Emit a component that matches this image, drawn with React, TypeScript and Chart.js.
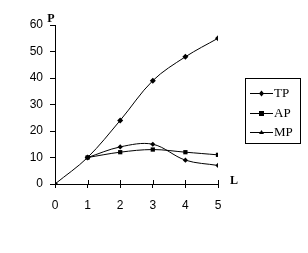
import React, { useEffect, useRef } from "react";
import { Chart, registerables } from "chart.js";

Chart.register(...registerables);

const labour = [0, 1, 2, 3, 4, 5];
const tp = [0, 10, 24, 39, 48, 55];
const ap = [null, 10, 12, 13, 12, 11];
const mp = [null, 10, 14, 15, 9, 7];
const seriesNames = ["TP", "AP", "MP"];
const yAxisTitle = "P";
const xAxisTitle = "L";

const pts = (vals: (number | null)[]) => labour.map((x, i) => ({ x, y: vals[i] }));

export default function App() {
  const ref = useRef<HTMLCanvasElement | null>(null);
  useEffect(() => {
    document.body.style.margin = "0";
    const canvas = ref.current!;
    const extras = {
      id: "extras",
      afterDraw(chart: any) {
        const ctx = chart.ctx;
        const xs = chart.scales.x;
        const ys = chart.scales.y;
        ctx.save();
        ctx.strokeStyle = "#000";
        ctx.lineWidth = 1;
        // upward parts of x ticks
        xs.ticks.forEach((t: any) => {
          const px = Math.round(xs.getPixelForValue(t.value)) + 0.5;
          ctx.beginPath();
          ctx.moveTo(px, ys.bottom);
          ctx.lineTo(px, ys.bottom - 4);
          ctx.stroke();
        });
        // axis titles
        ctx.fillStyle = "#000";
        ctx.font = "bold 12px 'Liberation Serif'";
        ctx.textAlign = "center";
        ctx.textBaseline = "middle";
        ctx.fillText(yAxisTitle, xs.left - 4, ys.top - 6);
        ctx.fillText(xAxisTitle, xs.right + 16, ys.bottom - 3);
        // legend
        const bx = 245.5, by = 78.5, bw = 55, bh = 65;
        ctx.strokeRect(bx, by, bw, bh);
        ctx.font = "13px 'Liberation Serif'";
        ctx.textAlign = "left";
        chart.data.datasets.forEach((ds: any, i: number) => {
          const y = 93 + i * 19.5;
          ctx.beginPath();
          ctx.moveTo(250, Math.round(y) + 0.5);
          ctx.lineTo(273, Math.round(y) + 0.5);
          ctx.stroke();
          const cx = 261.5, cy = Math.round(y) + 0.5;
          ctx.beginPath();
          if (ds.pointStyle === "rect") {
            ctx.fillRect(cx - 2.5, cy - 2.5, 5, 5);
          } else if (i === 0) {
            ctx.moveTo(cx, cy - 3); ctx.lineTo(cx + 2.5, cy); ctx.lineTo(cx, cy + 3); ctx.lineTo(cx - 2.5, cy); ctx.closePath(); ctx.fill();
          } else {
            ctx.moveTo(cx, cy - 2.5); ctx.lineTo(cx + 2.5, cy + 1.5); ctx.lineTo(cx - 2.5, cy + 1.5); ctx.closePath(); ctx.fill();
          }
          ctx.fillText(ds.label, 274, y + 1);
        });
        ctx.restore();
      },
    };
    const common = { borderColor: "#000", backgroundColor: "#000", borderWidth: 1, tension: 0.35, pointBorderWidth: 0, pointHoverRadius: 3 };
    const chart = new Chart(canvas, {
      type: "line",
      data: {
        datasets: [
          { ...common, label: seriesNames[0], data: pts(tp), pointStyle: "rectRot", pointRadius: 3 },
          { ...common, label: seriesNames[1], data: pts(ap), pointStyle: "rect", pointRadius: 3 },
          { ...common, label: seriesNames[2], data: pts(mp), pointStyle: "rectRot", pointRadius: 2.6 },
        ],
      },
      options: {
        responsive: false,
        animation: false,
        layout: { padding: { left: 0, right: 90, top: 25, bottom: 0 } },
        plugins: { legend: { display: false }, tooltip: { enabled: false } },
        scales: {
          x: {
            type: "linear", min: 0, max: 5,
            afterFit: (s: any) => { s.height = 69; },
            ticks: { stepSize: 1, color: "#000", padding: 10, font: { family: "'Liberation Sans'", size: 12 } },
            grid: { drawOnChartArea: false, tickLength: 4, color: "#000" },
            border: { color: "#000", width: 1 },
          },
          y: {
            min: 0, max: 60,
            afterFit: (s: any) => { s.width = 55; },
            ticks: { stepSize: 10, color: "#000", padding: 7, font: { family: "'Liberation Sans'", size: 12 } },
            grid: { drawOnChartArea: false, tickLength: 5, color: "#000" },
            border: { color: "#000", width: 1 },
          },
        },
      },
      plugins: [extras],
    } as any);
    return () => chart.destroy();
  }, []);
  return (
    <div style={{ position: "absolute", left: 0, top: 0, width: 308, height: 253, background: "#fff" }}>
      <canvas ref={ref} width={308} height={253} />
    </div>
  );
}
